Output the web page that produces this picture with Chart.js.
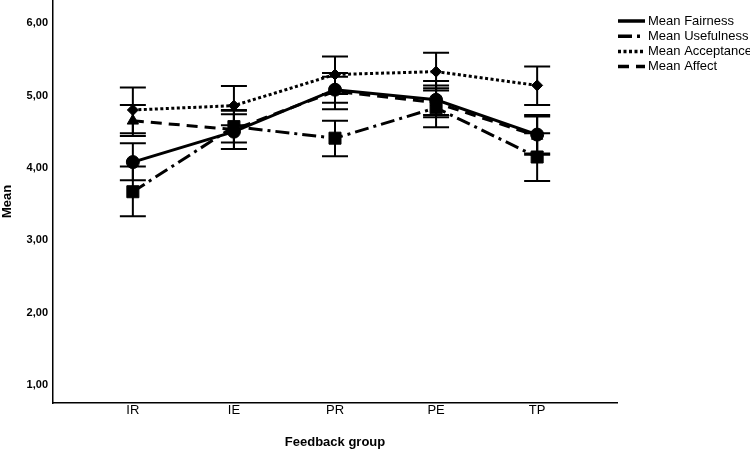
<!DOCTYPE html>
<html>
<head>
<meta charset="utf-8">
<script src="https://cdn.jsdelivr.net/npm/chart.js@4"></script>
<style>
  html, body { margin: 0; padding: 0; background: #fff; }
  #wrap { width: 750px; height: 454px; }
</style>
</head>
<body>
<div id="wrap"><canvas id="meanChart" width="750" height="454"></canvas></div>
<script>
// groups on the x axis
let groups = ["IR", "IE", "PR", "PE", "TP"];
let yTicks = [1, 2, 3, 4, 5, 6];

// means
let fairness   = [4.08, 4.50, 5.08, 4.94, 4.46];
let usefulness = [3.67, 4.57, 4.41, 4.83, 4.15];
let acceptance = [4.80, 4.86, 5.29, 5.33, 5.14];
let affect     = [4.65, 4.53, 5.06, 4.90, 4.44];

// error bar ends (low / high)
let fairnessLo   = [3.83, 4.26, 4.90, 4.70, 4.20];
let fairnessHi   = [4.34, 4.74, 5.26, 5.20, 4.73];
let usefulnessLo = [3.33, 4.35, 4.16, 4.56, 3.82];
let usefulnessHi = [4.02, 4.79, 4.65, 5.10, 4.48];
let acceptanceLo = [4.48, 4.59, 5.02, 5.07, 4.87];
let acceptanceHi = [5.11, 5.13, 5.54, 5.59, 5.40];
let affectLo     = [4.44, 4.26, 4.81, 4.73, 4.18];
let affectHi     = [4.87, 4.80, 5.31, 5.14, 4.71];

const FONT = "'Liberation Sans', Arial, sans-serif";

function points(values) {
    return values.map((v, i) => ({ x: i, y: v }));
}

function series(label, values, lo, hi, dash, style, radius) {
    return {
        label: label,
        data: points(values),
        lo: lo,
        hi: hi,
        borderColor: "#000",
        backgroundColor: "#000",
        borderWidth: 3,
        borderDash: dash,
        pointStyle: style,
        pointRadius: radius,
        pointBorderWidth: 1,
        pointBackgroundColor: "#000",
        pointBorderColor: "#000",
        tension: 0,
        fill: false
    };
}

// whiskers with caps, drawn under the markers
const errorBars = {
    id: "errorBars",
    beforeDatasetsDraw(chart) {
        let ctx = chart.ctx;
        let xs = chart.scales.x, ys = chart.scales.y;
        ctx.save();
        ctx.strokeStyle = "#000";
        ctx.lineWidth = 2;
        ctx.setLineDash([]);
        chart.data.datasets.forEach(ds => {
            ds.lo.forEach((lo, i) => {
                let x = xs.getPixelForValue(i);
                let y1 = ys.getPixelForValue(lo);
                let y2 = ys.getPixelForValue(ds.hi[i]);
                ctx.beginPath();
                ctx.moveTo(x, y1); ctx.lineTo(x, y2);
                ctx.moveTo(x - 13, y1); ctx.lineTo(x + 13, y1);
                ctx.moveTo(x - 13, y2); ctx.lineTo(x + 13, y2);
                ctx.stroke();
            });
        });
        ctx.restore();
    }
};

// legend in the right margin, SPSS style
const sideLegend = {
    id: "sideLegend",
    afterDraw(chart) {
        let ctx = chart.ctx;
        let x0 = chart.chartArea.right + 1;
        ctx.save();
        ctx.font = "13px " + FONT;
        ctx.textBaseline = "middle";
        ctx.fillStyle = "#000";
        chart.data.datasets.forEach((ds, k) => {
            let y = 21 + k * 15.2;
            ctx.strokeStyle = "#000";
            ctx.lineWidth = 3.5;
            ctx.setLineDash(ds.borderDash);
            ctx.beginPath();
            ctx.moveTo(x0, y); ctx.lineTo(x0 + 27, y);
            ctx.stroke();
            ctx.setLineDash([]);
            ctx.fillText(ds.label, x0 + 30, y);
        });
        ctx.restore();
    }
};

let ctx = document.getElementById("meanChart").getContext("2d");

let chart = new Chart(ctx, {
    type: "line",
    data: {
        datasets: [
            series("Mean Fairness", fairness, fairnessLo, fairnessHi, [], "circle", 6.5),
            series("Mean Usefulness", usefulness, usefulnessLo, usefulnessHi, [14, 5, 3, 5], "rect", 8.5),
            series("Mean Acceptance", acceptance, acceptanceLo, acceptanceHi, [3, 2.5], "rectRot", 5.5),
            series("Mean Affect", affect, affectLo, affectHi, [11, 7], "triangle", 6.5)
        ]
    },
    options: {
        responsive: false,
        animation: false,
        layout: { autoPadding: false, padding: { top: 0, right: 133, bottom: 0, left: 0 } },
        plugins: {
            legend: { display: false },
            tooltip: { enabled: false }
        },
        scales: {
            x: {
                type: "linear",
                min: -0.79,
                max: 4.79,
                afterBuildTicks: s => { s.ticks = groups.map((g, i) => ({ value: i })); },
                afterFit: s => { s.height = 51; s.paddingLeft = 0; s.paddingRight = 0; },
                grid: { display: false, drawTicks: false, tickLength: 0 },
                border: { display: true, color: "#000", width: 1.5 },
                ticks: {
                    padding: 0,
                    color: "#000",
                    font: { family: FONT, size: 13 },
                    callback: v => groups[v]
                },
                title: {
                    display: true,
                    text: "Feedback group",
                    color: "#000",
                    font: { family: FONT, size: 13, weight: "bold" },
                    padding: { top: 4, bottom: 4 }
                }
            },
            y: {
                min: 0.75,
                max: 6.32,
                afterBuildTicks: s => { s.ticks = yTicks.map(v => ({ value: v })); },
                afterFit: s => { s.width = 53; s.paddingTop = 0; s.paddingBottom = 0; },
                grid: { display: false, drawTicks: false, tickLength: 0 },
                border: { display: true, color: "#000", width: 1.5 },
                ticks: {
                    padding: 5,
                    color: "#000",
                    font: { family: FONT, size: 11, weight: "bold" },
                    callback: v => v.toFixed(2).replace(".", ",")
                },
                title: {
                    display: true,
                    text: "Mean",
                    color: "#000",
                    font: { family: FONT, size: 13, weight: "bold" },
                    padding: { top: 0, bottom: 0 }
                }
            }
        }
    },
    plugins: [errorBars, sideLegend]
});
</script>
</body>
</html>
